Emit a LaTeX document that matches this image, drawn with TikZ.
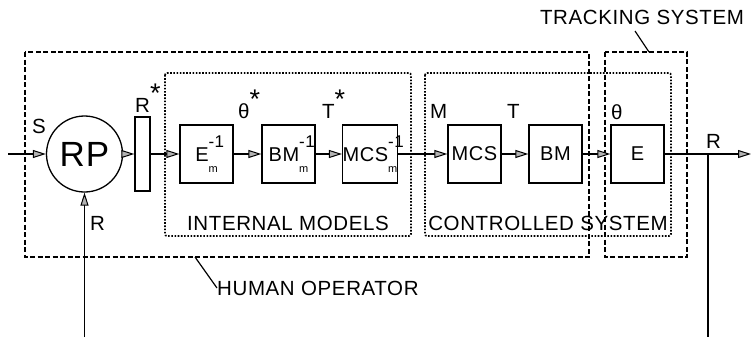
\documentclass[tikz,border=0pt]{standalone}
\usepackage{fontspec}
\setmainfont[LetterSpace=3]{Liberation Sans}
\usetikzlibrary{positioning, arrows.meta}
\newcommand{\invm}[1]{#1\rlap{\raisebox{0.72em}{\fontsize{17}{17}\selectfont -1}}\raisebox{-0.55em}{\fontsize{11}{11}\selectfont m}}
\newcommand{\astk}{\raisebox{0.45em}{\fontsize{27}{27}\selectfont *}}
\begin{document}
\begin{tikzpicture}[x=1pt, y=-1pt, >={Triangle[length=13pt, width=8pt, fill=gray!60, line width=1pt]},
        font=\fontsize{20.5}{20.5}\selectfont,
        blk/.style={draw, line width=1.3pt, minimum width=53pt, minimum height=58pt, inner sep=0pt,
          font=\fontsize{20}{20}\selectfont},
        sig/.style={->, line width=1.3pt},
        lbl/.style={inner sep=0pt, anchor=base west},
        hobox/.style={line width=1.4pt, dash pattern=on 5pt off 2.5pt},
        dotbox/.style={line width=1.7pt, dash pattern=on 1.6pt off 1.6pt, rounded corners=2pt}]
      \useasboundingbox (0,0) rectangle (751,337);
      \draw[hobox] (25,52) rectangle (589,257);
      \draw[hobox] (605,52) rectangle (687,257);
      \draw[dotbox] (165,73) rectangle (411,236);
      \draw[dotbox] (425,73) rectangle (671,236);
      \node[draw, circle, line width=1.3pt, minimum size=76pt, inner sep=0pt,
        font=\fontsize{35}{35}\selectfont] (rp) at (84.5,154) {RP};
      \node[draw, line width=1.3pt, minimum width=15pt, minimum height=74pt, inner sep=0pt] (rs) at (142.5,154) {};
      \node[blk] (ei) at (206.5,154) {\invm{E}};
      \node[blk] (bmi) at (288.5,154) {\invm{BM}};
      \node[blk] (mcsi) at (370,154) {\invm{MCS}};
      \node[blk] (mcs) at (474.5,154) {MCS};
      \node[blk] (bm) at (555.5,154) {BM};
      \node[blk] (e) at (637.5,154) {E};
      \coordinate (sin) at (8,154);
      \coordinate (rin) at (84.5,337);
      \coordinate (rout) at (751,154);
      \coordinate (rtap) at (708,154);
      \coordinate (rend) at (708,337);
      \draw[sig] (sin) -- (rp);
      \draw[sig] (rin) -- (rp);
      \draw[sig] (rp) -- (rs);
      \draw[sig] (rs) -- (ei);
      \draw[sig] (ei) -- (bmi);
      \draw[sig] (bmi) -- (mcsi);
      \draw[sig] (mcsi) -- (mcs);
      \draw[sig] (mcs) -- (bm);
      \draw[sig] (bm) -- (e);
      \draw[sig] (e) -- (rout);
      \draw[line width=1.3pt] (rtap) -- (rend);
      \node[lbl] (ls) at (32,133) {S};
      \node[lbl] (lr) at (90,230) {R};
      \node[lbl] (lrs) at (135,112) {R\astk};
      \node[lbl] (lths) at (238,118) {θ\astk};
      \node[lbl] (lts) at (322,118) {T\astk};
      \node[lbl] (lm) at (430,118) {M};
      \node[lbl] (lt) at (507,118) {T};
      \node[lbl] (lth) at (611,119) {θ};
      \node[lbl] (lro) at (706,148) {R};
      \node[inner sep=0pt] (im) at (288,223.5) {INTERNAL MODELS};
      \node[inner sep=0pt] (cs) at (548,223.5) {CONTROLLED SYSTEM};
      \node[inner sep=0pt, anchor=west] (ho) at (217,288) {HUMAN OPERATOR};
      \node[inner sep=0pt] (ts) at (642,17) {TRACKING SYSTEM};
      \draw[line width=1.2pt] (195,257) -- (ho.west);
      \draw[line width=1.2pt] (635,31) -- (649,52);
    \end{tikzpicture}
\end{document}
